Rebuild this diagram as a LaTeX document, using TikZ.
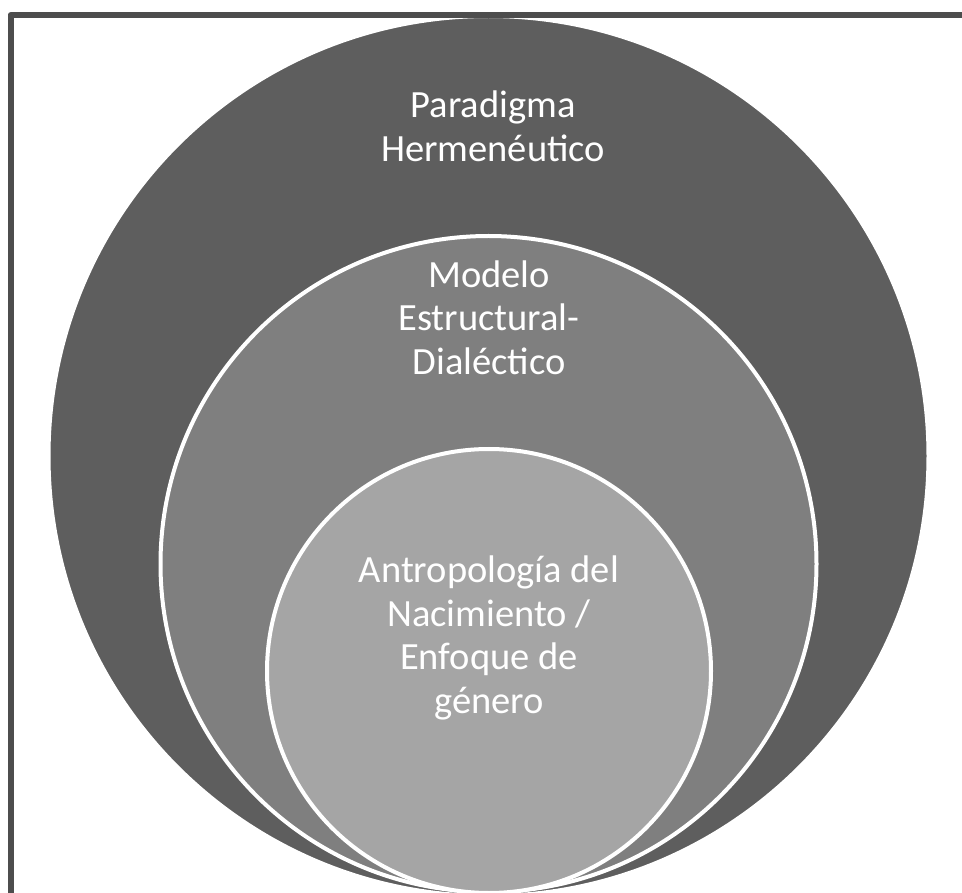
\documentclass[tikz,border=0pt]{standalone}
\usepackage{fontspec}
\setmainfont{Carlito}
\definecolor{framegray}{HTML}{4D4D4D}
\definecolor{outergray}{HTML}{5E5E5E}
\definecolor{midgray}{HTML}{7F7F7F}
\definecolor{innergray}{HTML}{A5A5A5}
\begin{document}
\begin{tikzpicture}[x=1pt,y=-1pt,
  ring/.style={circle, inner sep=0pt, draw=white, line width=4pt},
  label/.style={text=white, align=center, font=\fontsize{38.5}{43.5}\selectfont, inner sep=0pt}]
\useasboundingbox (0,0) rectangle (962,893);
\clip (0,0) rectangle (962,893);
\node[ring, fill=outergray, minimum size=880pt] (outer) at (488.5,456) {};
\node[ring, fill=midgray, minimum size=656pt] (middle) at (488.5,564) {};
\node[ring, fill=innergray, minimum size=444pt] (inner) at (489,671) {};
\node[label] (t1) at (493,126.5) {Paradigma\\Hermenéutico};
\node[label] (t2) at (489,317.5) {Modelo\\Estructural-\\Dialéctico};
\node[label] (t3) at (489,638) {Antropología del\\Nacimiento /\\Enfoque de\\género};
\draw[framegray, line width=6pt, line join=round] (10.5,900) -- (10.5,15) -- (970,15);
\end{tikzpicture}
\end{document}
